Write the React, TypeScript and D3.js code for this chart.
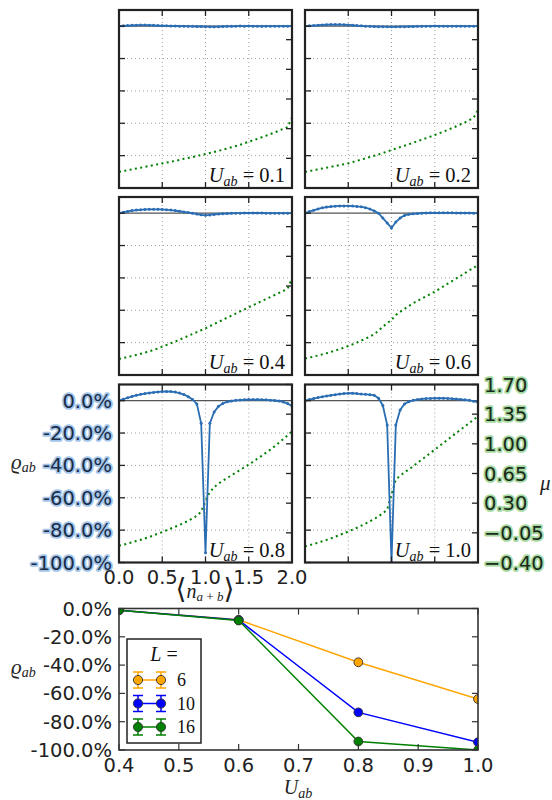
import React from "react";
import * as d3 from "d3";

// ---------- data ----------
const N_GRID = [0, 0.05, 0.1, 0.15, 0.2, 0.25, 0.3, 0.35, 0.4, 0.45, 0.5, 0.55, 0.6, 0.65, 0.7, 0.75, 0.8, 0.85, 0.9, 0.95, 1.0,
  1.05, 1.1, 1.15, 1.2, 1.25, 1.3, 1.35, 1.4, 1.45, 1.5, 1.55, 1.6, 1.65, 1.7, 1.75, 1.8, 1.85, 1.9, 1.95, 2.0];

const U_LABELS = ["0.1", "0.2", "0.4", "0.6", "0.8", "1.0"];

const RHO_U01 = [0, 0.002, 0.004, 0.005, 0.006, 0.007, 0.007, 0.006, 0.005, 0.004, 0.003, 0.002, 0.001, 0.001, 0, 0, -0.001, -0.001, -0.002, -0.002, -0.003,
  -0.003, -0.004, -0.003, -0.002, -0.001, -0.001, 0, 0.001, 0, 0.001, 0, 0, -0.001, 0, 0, 0, 0, 0, 0, 0];
const RHO_U02 = [0, 0.002, 0.004, 0.006, 0.008, 0.009, 0.01, 0.01, 0.01, 0.009, 0.008, 0.006, 0.004, 0.002, 0, -0.001, -0.002, -0.003, -0.003, -0.004, -0.004,
  -0.004, -0.003, -0.003, -0.002, -0.002, -0.001, -0.001, 0, 0, 0.001, 0, 0, 0, 0, 0, 0, 0, 0, 0, 0];
const RHO_U04 = [0, 0.006, 0.011, 0.016, 0.019, 0.021, 0.023, 0.024, 0.024, 0.024, 0.023, 0.021, 0.019, 0.016, 0.012, 0.008, 0.004, 0, -0.005, -0.01, -0.013,
  -0.011, -0.008, -0.005, -0.003, -0.002, -0.001, 0, 0, 0.001, 0.001, 0.001, 0.001, 0.001, 0, 0, 0, 0, 0, 0, 0];
const RHO_U06 = [0, 0.01, 0.018, 0.026, 0.033, 0.038, 0.041, 0.043, 0.045, 0.045, 0.045, 0.044, 0.042, 0.039, 0.034, 0.026, 0.014, 0, -0.03, -0.06, -0.092,
  -0.055, -0.03, -0.014, -0.007, -0.004, -0.002, 0, 0.001, 0.002, 0.002, 0.002, 0.002, 0.002, 0.002, 0.001, 0.001, 0.001, 0.001, 0, 0];
const RHO_U08 = [0, 0.009, 0.018, 0.026, 0.033, 0.039, 0.044, 0.048, 0.051, 0.054, 0.056, 0.057, 0.056, 0.053, 0.047, 0.038, 0.025, 0.008, -0.02, -0.14, -0.94,
  -0.14, -0.07, -0.035, -0.017, -0.007, -0.002, 0.002, 0.004, 0.006, 0.007, 0.007, 0.007, 0.006, 0.005, 0.003, 0.001, -0.002, -0.008, -0.018, -0.033];
const RHO_U10 = [0, 0.007, 0.013, 0.019, 0.024, 0.029, 0.033, 0.037, 0.041, 0.044, 0.046, 0.046, 0.044, 0.041, 0.039, 0.037, 0.033, 0.015, -0.03, -0.15, -1.0,
  -0.15, -0.057, -0.02, -0.006, 0.002, 0.007, 0.011, 0.013, 0.014, 0.015, 0.015, 0.015, 0.014, 0.012, 0.01, 0.008, 0.005, 0.002, -0.003, -0.009];

const MU_U01 = [-0.21, -0.2, -0.19, -0.18, -0.17, -0.16, -0.15, -0.14, -0.13, -0.12, -0.11, -0.1, -0.09, -0.08, -0.07, -0.055, -0.045, -0.035, -0.022, -0.011, 0,
  0.012, 0.025, 0.038, 0.052, 0.066, 0.08, 0.095, 0.11, 0.128, 0.146, 0.163, 0.18, 0.198, 0.217, 0.236, 0.256, 0.277, 0.298, 0.32, 0.43];
const MU_U02 = [-0.21, -0.2, -0.19, -0.18, -0.17, -0.16, -0.15, -0.14, -0.13, -0.12, -0.11, -0.095, -0.08, -0.065, -0.05, -0.035, -0.02, -0.004, 0.012, 0.03, 0.048,
  0.065, 0.082, 0.099, 0.116, 0.134, 0.152, 0.17, 0.188, 0.206, 0.225, 0.245, 0.265, 0.286, 0.307, 0.329, 0.352, 0.375, 0.4, 0.43, 0.52];
const MU_U04 = [-0.21, -0.2, -0.188, -0.176, -0.163, -0.15, -0.136, -0.122, -0.104, -0.086, -0.066, -0.046, -0.026, -0.005, 0.017, 0.039, 0.061, 0.084, 0.106, 0.128, 0.151,
  0.176, 0.201, 0.226, 0.251, 0.276, 0.3, 0.325, 0.35, 0.375, 0.4, 0.424, 0.448, 0.472, 0.496, 0.52, 0.544, 0.568, 0.592, 0.62, 0.74];
const MU_U06 = [-0.205, -0.195, -0.183, -0.17, -0.157, -0.143, -0.128, -0.112, -0.095, -0.077, -0.058, -0.038, -0.017, 0.006, 0.029, 0.052, 0.082, 0.122, 0.17, 0.21, 0.249,
  0.308, 0.345, 0.38, 0.414, 0.446, 0.474, 0.502, 0.529, 0.556, 0.583, 0.614, 0.645, 0.677, 0.708, 0.74, 0.771, 0.803, 0.835, 0.866, 0.898];
const MU_U08 = [-0.203, -0.19, -0.176, -0.162, -0.147, -0.132, -0.116, -0.1, -0.08, -0.06, -0.041, -0.02, 0.001, 0.022, 0.044, 0.066, 0.092, 0.12, 0.15, 0.2, 0.33,
  0.43, 0.49, 0.53, 0.565, 0.597, 0.628, 0.66, 0.692, 0.723, 0.754, 0.789, 0.824, 0.86, 0.896, 0.932, 0.972, 1.014, 1.057, 1.102, 1.148];
const MU_U10 = [-0.21, -0.196, -0.181, -0.166, -0.15, -0.133, -0.115, -0.096, -0.076, -0.055, -0.034, -0.012, 0.01, 0.034, 0.059, 0.085, 0.113, 0.145, 0.18, 0.225, 0.4,
  0.58, 0.625, 0.662, 0.698, 0.735, 0.775, 0.814, 0.853, 0.893, 0.932, 0.971, 1.011, 1.05, 1.09, 1.129, 1.168, 1.207, 1.246, 1.286, 1.325];

const RHO_SERIES = [RHO_U01, RHO_U02, RHO_U04, RHO_U06, RHO_U08, RHO_U10];
const MU_SERIES = [MU_U01, MU_U02, MU_U04, MU_U06, MU_U08, MU_U10];

const RHO_TICKS = [0, -0.2, -0.4, -0.6, -0.8, -1.0];
const MU_TICKS = [1.7, 1.35, 1.0, 0.65, 0.3, -0.05, -0.4];
const N_TICKS = [0, 0.5, 1.0, 1.5, 2.0];

// bottom chart
const U_AB = [0.4, 0.6, 0.8, 1.0];
const L_SIZES = ["6", "10", "16"];
const RHO_L6 = [-0.012, -0.08, -0.38, -0.64];
const RHO_L10 = [-0.012, -0.082, -0.734, -0.945];
const RHO_L16 = [-0.012, -0.085, -0.94, -1.0];
const U_TICKS = [0.4, 0.5, 0.6, 0.7, 0.8, 0.9, 1.0];
const L_COLORS = ["#ffa500", "#0000ff", "#008000"];

// ---------- layout ----------
const COL_X = [119, 305];
const ROW_Y = [10, 197, 384.5];
const PW = 173;
const PH = 178;

const SANS = "DejaVu Sans, sans-serif";
const SERIF = "Liberation Serif, DejaVu Serif, serif";
const BLUE = "#2a6db3";
const GREEN = "#008000";
const FRAME = "#222";
const TICK_FS = 19.5;

function pctLabel(v: number) {
  return (v * 100).toFixed(1) + "%";
}
function muLabel(v: number) {
  const s = Math.abs(v).toFixed(2);
  return v < 0 ? "\u2212" + s : s;
}

function Panel({ idx }: { idx: number }) {
  const col = idx % 2;
  const row = Math.floor(idx / 2);
  const x0 = COL_X[col];
  const y0 = ROW_Y[row];
  const x = d3.scaleLinear().domain([0, 2]).range([x0, x0 + PW]);
  const yL = d3.scaleLinear().domain([-1, 0.1]).range([y0 + PH, y0]);
  const yR = d3.scaleLinear().domain([-0.4, 1.7]).range([y0 + PH, y0]);
  const rho = RHO_SERIES[idx];
  const mu = MU_SERIES[idx];
  const lineRho = d3.line<number>().x((_, i) => x(N_GRID[i])).y((d) => yL(d));
  const lineMu = d3.line<number>().x((_, i) => x(N_GRID[i])).y((d) => yR(d));
  const clipId = `clip${idx}`;
  const tl = 6;
  const showLeft = idx === 4;
  const showRight = idx === 5;
  const showX = idx === 4;
  return (
    <g>
      <defs>
        <clipPath id={clipId}>
          <rect x={x0} y={y0} width={PW} height={PH} />
        </clipPath>
      </defs>
      <rect x={x0} y={y0} width={PW} height={PH} fill="#fff" />
      {[0.5, 1.0, 1.5].map((t) => (
        <line key={"gx" + t} x1={x(t)} x2={x(t)} y1={y0} y2={y0 + PH} stroke="#a0a0a0" strokeWidth={1} strokeDasharray="1,3" />
      ))}
      {[-0.2, -0.4, -0.6, -0.8].map((t) => (
        <line key={"gy" + t} x1={x0} x2={x0 + PW} y1={yL(t)} y2={yL(t)} stroke="#a0a0a0" strokeWidth={1} strokeDasharray="1,3" />
      ))}
      <g clipPath={`url(#${clipId})`}>
        <line x1={x0} x2={x0 + PW} y1={yL(0)} y2={yL(0)} stroke="#555" strokeWidth={1.2} />
        <path d={lineMu(mu) || ""} fill="none" stroke={GREEN} strokeWidth={2} strokeDasharray="2,3.4" />
        <path d={lineRho(rho) || ""} fill="none" stroke={BLUE} strokeWidth={1.8} />
        {rho.map((d, i) => (
          <circle key={i} cx={x(N_GRID[i])} cy={yL(d)} r={1.5} fill={BLUE} />
        ))}
      </g>
      {[0.5, 1.0, 1.5].map((t) => (
        <g key={"tx" + t}>
          <line x1={x(t)} x2={x(t)} y1={y0} y2={y0 + tl} stroke={FRAME} strokeWidth={1.3} />
          <line x1={x(t)} x2={x(t)} y1={y0 + PH} y2={y0 + PH - tl} stroke={FRAME} strokeWidth={1.3} />
        </g>
      ))}
      {RHO_TICKS.map((t) => (
        <line key={"tl" + t} x1={x0} x2={x0 + tl} y1={yL(t)} y2={yL(t)} stroke={FRAME} strokeWidth={1.3} />
      ))}
      {MU_TICKS.map((t) => (
        <line key={"tr" + t} x1={x0 + PW} x2={x0 + PW - tl} y1={yR(t)} y2={yR(t)} stroke={FRAME} strokeWidth={1.3} />
      ))}
      <rect x={x0} y={y0} width={PW} height={PH} fill="none" stroke={FRAME} strokeWidth={2.2} />
      <text x={x0 + PW - 7} y={y0 + PH - 6} textAnchor="end" fontFamily={SERIF} fontSize={20.5} fill="#111">
        <tspan fontStyle="italic">U</tspan>
        <tspan fontStyle="italic" fontSize={14} dy={4}>ab</tspan>
        <tspan dy={-4}>{" = " + U_LABELS[idx]}</tspan>
      </text>
      {showLeft &&
        RHO_TICKS.map((t) => (
          <text key={"ll" + t} x={x0 - 7} y={yL(t) + 7} textAnchor="end" fontFamily={SANS} fontSize={TICK_FS}
            fill="#1b2c47" stroke="#a3c6ea" strokeWidth={3.5} paintOrder="stroke" strokeLinejoin="round">
            {pctLabel(t)}
          </text>
        ))}
      {showRight &&
        MU_TICKS.map((t) => (
          <text key={"rl" + t} x={x0 + PW + 6} y={yR(t) + 7} textAnchor="start" fontFamily={SANS} fontSize={TICK_FS}
            fill="#1a2a1a" stroke="#a6d9a0" strokeWidth={3.5} paintOrder="stroke" strokeLinejoin="round">
            {muLabel(t)}
          </text>
        ))}
      {showX &&
        N_TICKS.map((t) => (
          <text key={"xl" + t} x={x(t)} y={y0 + PH + 21} textAnchor="middle" fontFamily={SANS} fontSize={TICK_FS} fill="#222">
            {t.toFixed(1)}
          </text>
        ))}
    </g>
  );
}

function BottomChart() {
  const bx0 = 119, bx1 = 478, by0 = 608.5, by1 = 750;
  const x = d3.scaleLinear().domain([0.4, 1.0]).range([bx0, bx1]);
  const y = d3.scaleLinear().domain([-1, 0]).range([by1, by0]);
  const series = [RHO_L6, RHO_L10, RHO_L16];
  const line = d3.line<number>().x((_, i) => x(U_AB[i])).y((d) => y(d));
  const tl = 6;
  return (
    <g>
      <defs>
        <clipPath id="clipB">
          <rect x={bx0} y={by0} width={bx1 - bx0} height={by1 - by0} />
        </clipPath>
      </defs>
      <g clipPath="url(#clipB)">
        {series.map((s, k) => (
          <g key={k}>
            <path d={line(s) || ""} fill="none" stroke={L_COLORS[k]} strokeWidth={1.5} />
            {s.map((d, i) => (
              <circle key={i} cx={x(U_AB[i])} cy={y(d)} r={4.4} fill={L_COLORS[k]} stroke="#333" strokeWidth={0.9} />
            ))}
          </g>
        ))}
      </g>
      {U_TICKS.map((t) => (
        <g key={"bt" + t}>
          <line x1={x(t)} x2={x(t)} y1={by0} y2={by0 + tl} stroke="#333" strokeWidth={1.2} />
          <line x1={x(t)} x2={x(t)} y1={by1} y2={by1 - tl} stroke="#333" strokeWidth={1.2} />
          <text x={x(t)} y={by1 + 22} textAnchor="middle" fontFamily={SANS} fontSize={TICK_FS} fill="#222">
            {t.toFixed(1)}
          </text>
        </g>
      ))}
      {RHO_TICKS.map((t) => (
        <g key={"by" + t}>
          <line x1={bx0} x2={bx0 + tl} y1={y(t)} y2={y(t)} stroke="#333" strokeWidth={1.2} />
          <line x1={bx1} x2={bx1 - tl} y1={y(t)} y2={y(t)} stroke="#333" strokeWidth={1.2} />
          <text x={bx0 - 7} y={y(t) + 7} textAnchor="end" fontFamily={SANS} fontSize={TICK_FS} fill="#222">
            {pctLabel(t)}
          </text>
        </g>
      ))}
      <rect x={bx0} y={by0} width={bx1 - bx0} height={by1 - by0} fill="none" stroke="#333" strokeWidth={1.6} />
      {/* legend */}
      <rect x={127} y={639} width={74} height={104} fill="#fff" stroke="#222" strokeWidth={1.5} />
      <text x={164} y={661} textAnchor="middle" fontFamily={SERIF} fontSize={20} fill="#111">
        <tspan fontStyle="italic">L</tspan>
        <tspan>{" ="}</tspan>
      </text>
      {L_SIZES.map((lab, k) => {
        const cy = 680 + k * 23.5;
        const c = L_COLORS[k];
        return (
          <g key={lab}>
            <line x1={138} x2={161} y1={cy} y2={cy} stroke={c} strokeWidth={1.5} />
            {[138, 161].map((cx) => (
              <g key={cx}>
                <line x1={cx} x2={cx} y1={cy - 8} y2={cy + 8} stroke={c} strokeWidth={1.5} />
                <line x1={cx - 5} x2={cx + 5} y1={cy - 8} y2={cy - 8} stroke={c} strokeWidth={1.5} />
                <line x1={cx - 5} x2={cx + 5} y1={cy + 8} y2={cy + 8} stroke={c} strokeWidth={1.5} />
                <circle cx={cx} cy={cy} r={4.6} fill={c} stroke="#333" strokeWidth={0.9} />
              </g>
            ))}
            <text x={177} y={cy + 6} fontFamily={SERIF} fontSize={18} fill="#111">
              {lab}
            </text>
          </g>
        );
      })}
      <text x={298} y={794} textAnchor="middle" fontFamily={SERIF} fontSize={20} fill="#222">
        <tspan fontStyle="italic">U</tspan>
        <tspan fontStyle="italic" fontSize={14} dy={4}>ab</tspan>
      </text>
      <text x={11} y={674} fontFamily={SERIF} fontSize={21} fill="#222">
        <tspan fontStyle="italic">{"\u03F1"}</tspan>
        <tspan fontStyle="italic" fontSize={14} dy={3}>ab</tspan>
      </text>
    </g>
  );
}

export default function App() {
  return (
    <svg width={552} height={800} style={{ position: "absolute", left: 0, top: 0, background: "#fff" }}>
      <rect width={552} height={800} fill="#fff" />
      {[0, 1, 2, 3, 4, 5].map((i) => (
        <Panel key={i} idx={i} />
      ))}
      <BottomChart />
      <text x={11} y={469} fontFamily={SERIF} fontSize={21} fill="#222">
        <tspan fontStyle="italic">{"\u03F1"}</tspan>
        <tspan fontStyle="italic" fontSize={14} dy={3}>ab</tspan>
      </text>
      <text x={540} y={490} fontFamily={SERIF} fontSize={21} fontStyle="italic" fill="#222">
        {"\u03BC"}
      </text>
      <text x={205} y={598} textAnchor="middle" fontFamily={SERIF} fill="#222">
        <tspan fontSize={28}>{"\u27E8"}</tspan>
        <tspan fontStyle="italic" fontSize={20}>n</tspan>
        <tspan fontStyle="italic" fontSize={13} dy={3}>{"a\u2009+\u2009b"}</tspan>
        <tspan fontSize={28} dy={-3}>{"\u27E9"}</tspan>
      </text>
    </svg>
  );
}
